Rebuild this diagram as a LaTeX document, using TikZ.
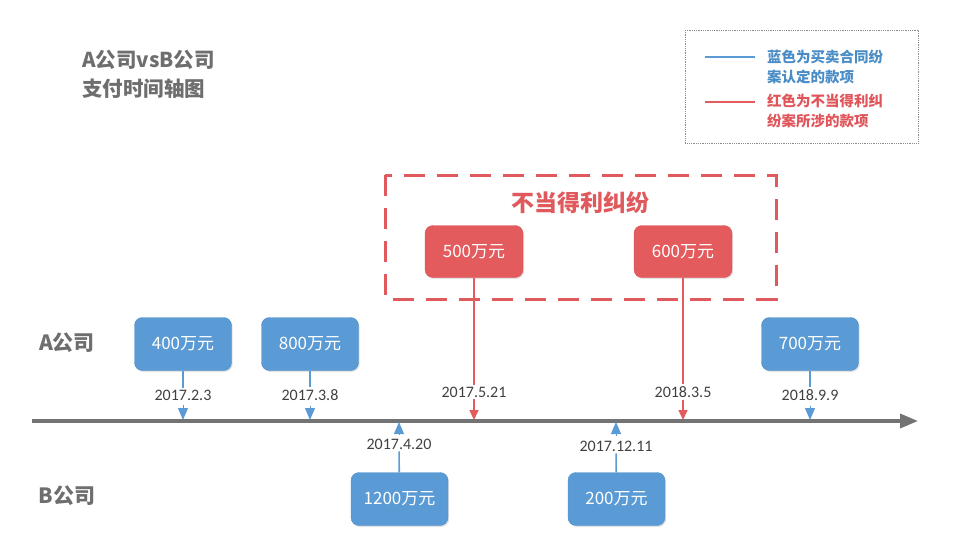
\documentclass[tikz,border=0pt]{standalone}
\usepackage{fontspec}
\setmainfont{Carlito}
\newfontfamily\cjk{Noto Sans CJK SC}
\usetikzlibrary{arrows.meta,shadows}
\definecolor{boxblue}{HTML}{5B9BD5}
\definecolor{boxblueline}{HTML}{4F8DC8}
\definecolor{boxred}{HTML}{E35B5D}
\definecolor{boxredline}{HTML}{D65255}
\definecolor{dashred}{HTML}{E0595D}
\definecolor{titlegray}{HTML}{6E6E6E}
\definecolor{axisgray}{HTML}{737373}
\definecolor{datetext}{HTML}{404040}
\definecolor{legblue}{HTML}{4A8CC6}
\definecolor{legred}{HTML}{E0555A}
\definecolor{legframe}{HTML}{8C8C8C}
\begin{document}
\begin{tikzpicture}[x=1pt,y=-1pt,
  bbox/.style={draw=boxblueline, fill=boxblue, rounded corners=8pt, minimum width=97pt, minimum height=53pt, inner sep=0pt, text=white, font=\cjk\fontsize{17}{18}\selectfont, drop shadow={shadow xshift=1.2pt, shadow yshift=-1.5pt, opacity=0.22, fill=gray}},
  rbox/.style={draw=boxredline, fill=boxred, rounded corners=8pt, minimum width=98pt, minimum height=52pt, inner sep=0pt, text=white, font=\cjk\fontsize{17}{18}\selectfont, drop shadow={shadow xshift=1.2pt, shadow yshift=-1.5pt, opacity=0.22, fill=gray}},
  datelbl/.style={font=\fontsize{16}{18}\selectfont, text=datetext, inner sep=2pt},
  bconn/.style={draw=boxblue, line width=1.6pt},
  barrow/.style={draw=boxblue, line width=1pt, -{Triangle[length=12pt,width=10pt]}, shorten <=3pt},
  rconn/.style={draw=boxred, line width=1.6pt},
  rarrow/.style={draw=boxred, line width=1.6pt, -{Triangle[length=10pt,width=9pt]}},
  axisline/.style={draw=axisgray, line width=3.5pt, -{Triangle[length=18pt,width=14pt]}},
  sidelbl/.style={text=titlegray, font=\cjk\bfseries\fontsize{21}{24}\selectfont},
  titlelbl/.style={text=titlegray, font=\cjk\bfseries\fontsize{20.5}{24}\selectfont, anchor=west, inner sep=0pt},
  legtext/.style={anchor=west, align=left, inner sep=0pt, font=\cjk\bfseries\fontsize{14.5}{20}\selectfont},
]
\useasboundingbox (0,0) rectangle (955,551);

% title
\node[titlelbl] (title1) at (82,60) {A公司vsB公司};
\node[titlelbl] (title2) at (82,89) {支付时间轴图};

% legend
\draw[densely dotted, draw=legframe, line width=0.8pt] (685,30) rectangle (918,143);
\coordinate (lb1) at (705,57); \coordinate (lb2) at (755,57);
\coordinate (lr1) at (705,102); \coordinate (lr2) at (755,102);
\draw[draw=boxblue, line width=1.8pt] (lb1) -- (lb2);
\draw[draw=boxred, line width=1.8pt] (lr1) -- (lr2);
\node[legtext, text=legblue] (legb) at (767,67) {蓝色为买卖合同纷\\案认定的款项};
\node[legtext, text=legred] (legr) at (767,111) {红色为不当得利纠\\纷案所涉的款项};

% dispute frame
\draw[draw=dashred, line width=3pt, dash pattern=on 21pt off 12pt] (385,175) rectangle (776,299);
\node[text=dashred, font=\cjk\bfseries\fontsize{23}{26}\selectfont] (dtitle) at (580,203) {不当得利纠纷};

% side labels
\node[sidelbl] (alabel) at (67,343) {A公司};
\node[sidelbl] (blabel) at (67,496) {B公司};

% axis
\coordinate (axs) at (32,421);
\coordinate (axe) at (918,421);
\draw[axisline] (axs) -- (axe);

% upper blue
\node[bbox] (b400) at (183,344) {400万元};
\node[bbox] (b800) at (310,344) {800万元};
\node[bbox] (b700) at (810,344) {700万元};
\node[datelbl] (d400) at (183,395) {2017.2.3};
\node[datelbl] (d800) at (310,395) {2017.3.8};
\node[datelbl] (d700) at (810,395) {2018.9.9};
\coordinate (t400) at (183,420);
\coordinate (t800) at (310,420);
\coordinate (t700) at (810,420);
\foreach \n in {400,800,700}{
  \draw[bconn] (b\n) -- (d\n);
  \draw[barrow] (d\n) -- (t\n);
}

% red
\node[rbox] (r500) at (474,251.5) {500万元};
\node[rbox] (r600) at (683,251.5) {600万元};
\node[datelbl] (d500) at (474,392) {2017.5.21};
\node[datelbl] (d600) at (683,392) {2018.3.5};
\coordinate (t500) at (474,420);
\coordinate (t600) at (683,420);
\foreach \n in {500,600}{
  \draw[rconn] (r\n) -- (d\n);
  \draw[rarrow] (d\n) -- (t\n);
}

% lower blue
\node[bbox] (b1200) at (399.5,499) {1200万元};
\node[bbox] (b200) at (616.5,499) {200万元};
\node[datelbl] (d1200) at (399,444) {2017.4.20};
\node[datelbl] (d200) at (616,446) {2017.12.11};
\coordinate (t1200) at (399,422);
\coordinate (t200) at (616,422);
\foreach \n in {1200,200}{
  \draw[bconn] (b\n) -- (d\n);
  \draw[barrow] (d\n) -- (t\n);
}
\end{tikzpicture}
\end{document}
